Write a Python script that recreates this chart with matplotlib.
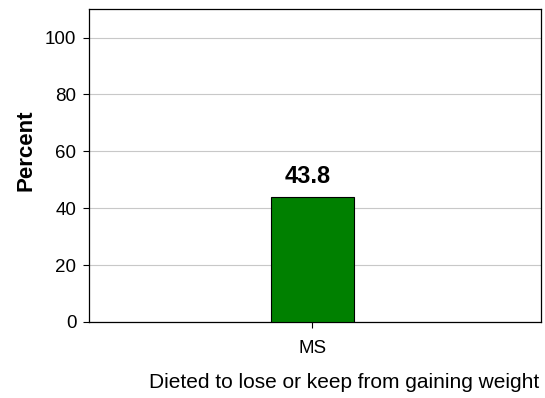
import matplotlib
matplotlib.use("Agg")
from matplotlib import pyplot as plt

plt.rcParams['font.family'] = ['Liberation Sans', 'DejaVu Sans']

categories = ["MS"]
values = [43.8]
labels = ["43.8"]

fig = plt.figure(figsize=(5.45, 3.98), dpi=100)
ax = fig.add_axes([0.163, 0.191, 0.830, 0.786])

ax.bar(range(len(categories)), values, width=0.184, color="#008000",
       edgecolor="black", linewidth=0.8, zorder=3)
for i, v in enumerate(values):
    ax.text(i - 0.011, v + 3.3, labels[i], ha="center", va="bottom",
            fontsize=17, fontweight="bold")

ax.set_xlim(-0.494, 0.506)
ax.set_ylim(0, 110)
ax.set_yticks([0, 20, 40, 60, 80, 100])
ax.set_xticks(range(len(categories)))
ax.set_xticklabels(categories)
ax.tick_params(axis="both", labelsize=13.5, length=4, width=0.8, colors="black")
ax.tick_params(axis="x", pad=9)
ax.tick_params(axis="y", pad=5)
ax.yaxis.grid(True, color="#c8c8c8", linewidth=0.8, zorder=0)
for s in ax.spines.values():
    s.set_linewidth(0.9)
ax.set_ylabel("Percent", fontsize=16, fontweight="bold")
ax.yaxis.set_label_coords(-0.115, 0.55)
ax.set_xlabel("Dieted to lose or keep from gaining weight", fontsize=15)
ax.xaxis.set_label_coords(0.564, -0.162)

fig.savefig("out.png", dpi=100)
